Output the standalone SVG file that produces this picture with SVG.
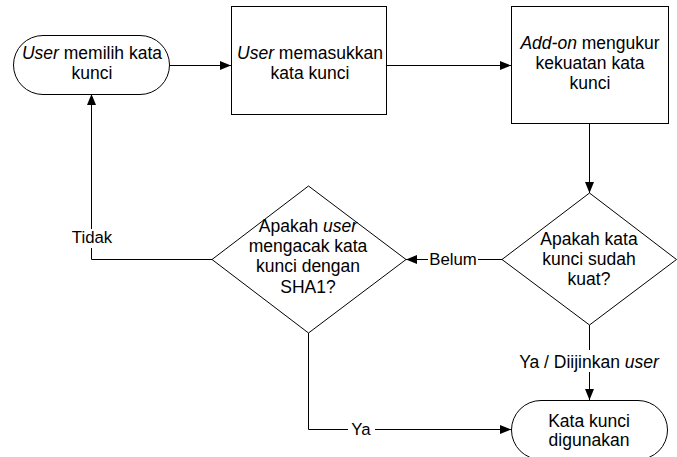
<svg xmlns="http://www.w3.org/2000/svg" width="677" height="457" viewBox="0 0 677 457">
<defs>
<style>
.s{fill:#fff;stroke:#000;stroke-width:1}
.c{fill:none;stroke:#000;stroke-width:1}
text{font-family:"Liberation Sans",Arial,sans-serif;font-size:17.5px;fill:#000;text-anchor:middle}
.l{font-size:16.8px}
.i{font-style:italic}
.lb{fill:#fff;stroke:none}
</style>
<marker id="a" viewBox="0 0 11 9" refX="11" refY="4.5" markerWidth="11" markerHeight="9" markerUnits="userSpaceOnUse" orient="auto">
<path d="M0,0 L11,4.5 L0,9 z" fill="#000"/>
</marker>
</defs>
<rect width="677" height="457" fill="#fff"/>
<g id="connectors">
<line class="c" x1="169.5" y1="65.5" x2="231" y2="65.5" marker-end="url(#a)"/>
<line class="c" x1="386.5" y1="65.5" x2="511" y2="65.5" marker-end="url(#a)"/>
<line class="c" x1="589.5" y1="123.5" x2="589.5" y2="193" marker-end="url(#a)"/>
<line class="c" x1="502" y1="259.5" x2="406" y2="259.5" marker-end="url(#a)"/>
<rect class="lb" x="428" y="250" width="50" height="19"/>
<text class="l" x="453" y="265">Belum</text>
<polyline class="c" points="212,259.5 91.5,259.5 91.5,94" marker-end="url(#a)"/>
<rect class="lb" x="70" y="229" width="44" height="19"/>
<text class="l" x="92" y="243">Tidak</text>
<polyline class="c" points="308.5,333 308.5,429.5 511,429.5" marker-end="url(#a)"/>
<rect class="lb" x="348" y="420" width="27" height="19"/>
<text class="l" x="361" y="435">Ya</text>
<line class="c" x1="589.5" y1="325" x2="589.5" y2="400" marker-end="url(#a)"/>
<rect class="lb" x="514" y="350" width="150" height="22"/>
<text x="589" y="368">Ya / Diijinkan <tspan class="i">user</tspan></text>
</g>
<g id="start">
<rect class="s" x="13.5" y="35.5" width="156" height="59" rx="29.5"/>
<text x="92" y="59"><tspan class="i">User</tspan> memilih kata</text>
<text x="92" y="79">kunci</text>
</g>
<g id="input">
<rect class="s" x="231.5" y="6.5" width="155" height="108"/>
<text x="310" y="59"><tspan class="i">User</tspan> memasukkan</text>
<text x="310" y="79">kata kunci</text>
</g>
<g id="measure">
<rect class="s" x="511.5" y="6.5" width="157" height="117"/>
<text x="590" y="49"><tspan class="i">Add-on</tspan> mengukur</text>
<text x="590" y="69">kekuatan kata</text>
<text x="590" y="89">kunci</text>
</g>
<g id="strong">
<polygon class="s" points="589.5,193 676.5,259.5 589.5,325 502,259.5"/>
<text x="589" y="245">Apakah kata</text>
<text x="589" y="265">kunci sudah</text>
<text x="589" y="285">kuat?</text>
</g>
<g id="sha1">
<polygon class="s" points="308.5,186 406,259.5 308.5,333 212,259.5"/>
<text x="308" y="232">Apakah <tspan class="i">user</tspan></text>
<text x="308" y="252">mengacak kata</text>
<text x="308" y="272">kunci dengan</text>
<text x="308" y="293">SHA1?</text>
</g>
<g id="end">
<rect class="s" x="511.5" y="400.5" width="156" height="59" rx="29.5"/>
<text x="589" y="427">Kata kunci</text>
<text x="589" y="446">digunakan</text>
</g>
</svg>
